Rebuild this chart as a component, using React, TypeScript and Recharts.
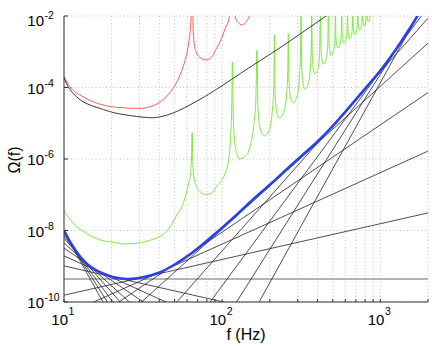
import { LineChart, Line, XAxis, YAxis, CartesianGrid, Label } from 'recharts'

// frequency in Hz, energy density Omega(f)
type Pt = [number, number]

const xTicks = [10, 20, 30, 40, 50, 60, 70, 80, 90, 100, 200, 300, 400, 500, 600, 700, 800, 900, 1000, 2000]
const xLabelTicks = [10, 100, 1000]
const yTicks = [1e-10, 1e-8, 1e-6, 1e-4, 1e-2]

const redCurve: Pt[] = [
  [10, 2e-4], [10.9, 1.05e-4], [13.2, 5.5e-5], [16.9, 3.4e-5], [21.5, 2.8e-5], [30.1, 2.6e-5],
  [36.5, 3.1e-5], [40.5, 3.9e-5], [44.3, 5.5e-5], [47.5, 7.9e-5], [51.2, 1.3e-4], [54.5, 2.4e-4],
  [57.6, 4.8e-4], [61.3, 1.7e-3], [63.5, 7.8e-3], [64.6, 1e-1], [65.7, 3.3e-3], [67.8, 1.1e-3],
  [71.6, 7.2e-4], [79, 5.9e-4], [86.9, 7.6e-4], [90.6, 1.1e-3], [97.5, 2e-3], [104.5, 4.5e-3],
  [111, 9.5e-3], [114, 3e-2], [116, 1e-1], [119, 1.6e-2], [121, 9.5e-3], [126, 6.6e-3],
  [134, 5.6e-3], [141, 6.6e-3], [148, 9.5e-3], [154, 1.6e-2], [160, 6e-2],
]

const blackCurve: Pt[] = [
  [10, 1.9e-4], [10.9, 8.9e-5], [13.2, 4e-5], [16.9, 2.6e-5], [21.5, 1.9e-5], [31.6, 1.48e-5],
  [40.2, 1.5e-5], [51.2, 2.1e-5], [65.2, 3.6e-5], [90.6, 8.5e-5], [146.9, 3.5e-4], [238, 1.4e-3],
  [446, 9.5e-3], [520, 1.5e-2],
]

const greenCurve: Pt[] = [
  [10, 3.5e-8], [11.4, 1.6e-8], [13.2, 9.5e-9], [16.9, 5.5e-9], [21.5, 4.5e-9], [23.6, 4.2e-9],
  [27.3, 4.3e-9], [34.8, 5.3e-9], [44.3, 9.3e-9], [51.2, 2.5e-8], [57.6, 7e-8], [61.1, 1.9e-7],
  [63.3, 4.5e-7], [64.1, 1.26e-6], [64.6, 5.5e-6], [65.1, 1.1e-6], [65.7, 4e-7], [68.7, 1.7e-7],
  [73, 1.2e-7], [79, 1e-7], [85.6, 1.1e-7], [90.6, 1.55e-7], [98.8, 2.5e-7], [104.5, 4e-7],
  [110, 1e-6], [113, 4e-6], [114.9, 2.5e-5], [116, 5.2e-4], [117.5, 1.6e-5], [120, 3.2e-6],
  [124, 1.4e-6], [128, 1e-6], [140, 1.2e-6], [150, 2.2e-6], [158, 7.9e-6], [163, 4e-5],
  [166, 1.1e-3], [168, 3.2e-5], [173, 7.9e-6], [184, 4.4e-6], [198, 6.3e-6], [207, 2e-5],
  [212, 1.26e-4], [214, 3e-3], [216, 7.9e-5], [221, 2.2e-5], [229, 1.4e-5], [246, 2.2e-5],
  [256, 7.1e-5], [260, 3.2e-4], [262, 3.2e-3], [264, 2e-4], [270, 5.6e-5], [281, 3.8e-5],
  [299, 6.3e-5], [309, 2.5e-4], [313, 1.26e-3], [315, 1.6e-2], [318, 4e-4], [324, 1.4e-4],
  [334, 8.9e-5], [352, 1.4e-4], [362, 4.5e-4], [366, 1.6e-3], [368, 1.6e-2], [371, 7.9e-4],
  [376, 3.5e-4], [386, 2.4e-4], [404, 3.5e-4], [413, 1e-3], [418, 1.6e-2], [421, 1.26e-3],
  [427, 6.3e-4], [436, 4.5e-4], [455, 6.3e-4], [465, 1.6e-3], [470, 1.6e-2], [473, 2e-3],
  [479, 1.1e-3], [488, 7.9e-4], [506, 1.05e-3], [516, 2.5e-3], [520, 1.6e-2], [523, 2.8e-3],
  [529, 1.66e-3], [538, 1.26e-3], [556, 1.6e-3], [566, 3.5e-3], [570, 1.6e-2], [573, 3.5e-3],
  [579, 2.2e-3], [588, 1.74e-3], [606, 2.2e-3], [616, 4.5e-3], [620, 1.6e-2], [623, 4.5e-3],
  [629, 2.8e-3], [638, 2.3e-3], [656, 2.8e-3], [666, 5.6e-3], [670, 1.6e-2], [673, 5.6e-3],
  [679, 3.8e-3], [688, 3e-3], [706, 3.6e-3], [716, 7.1e-3], [720, 1.6e-2], [723, 7.1e-3],
  [729, 5e-3], [738, 4e-3], [756, 4.8e-3], [766, 8.9e-3], [770, 1.6e-2], [773, 8.9e-3],
  [779, 6.6e-3], [788, 5.2e-3], [806, 6.3e-3], [816, 1.1e-2], [820, 1.6e-2], [823, 1.1e-2],
  [829, 8.7e-3], [838, 6.9e-3], [856, 8.3e-3], [866, 1.26e-2], [870, 2e-2],
]

const blueCurve: Pt[] = [
  [10, 1e-8], [11.2, 4e-9], [12.6, 1.9e-9], [14.1, 1.12e-9], [15.8, 7.9e-10], [17.8, 6.2e-10],
  [20, 5.1e-10], [22.4, 4.6e-10], [25.1, 4.4e-10], [28.2, 4.5e-10], [31.6, 4.9e-10], [39.8, 6.6e-10],
  [50.1, 1.12e-9], [63.1, 2.2e-9], [79.4, 5e-9], [100, 1.2e-8], [126, 3e-8], [158, 7.6e-8],
  [200, 1.9e-7], [251, 4.8e-7], [316, 1.2e-6], [398, 3e-6], [501, 8.5e-6], [631, 2.7e-5],
  [794, 8.9e-5], [1000, 3e-4], [1259, 1.2e-3], [1585, 5.6e-3], [1820, 1.6e-2],
]

const flatLine: Pt[] = [[10, 4.4e-10], [2000, 4.4e-10]]

// power-law lines, slopes -8..8 (0 is the grey one): Omega at 10 Hz and at 2000 Hz
const powerLawFreqs = [10, 2000]
const powerLawEnds: [number, number][] = [
  [9.3e-9, 3.6e-27], [8.3e-9, 6.5e-25], [7.1e-9, 1.1e-22], [6.0e-9, 1.9e-20],
  [4.5e-9, 2.8e-18], [3.2e-9, 4.0e-16], [1.95e-9, 4.9e-14], [1.02e-9, 5.1e-12],
  [1.55e-10, 3.1e-8], [4.2e-11, 1.66e-6], [9.1e-12, 7.2e-5], [1.1e-12, 1.74e-3],
  [2.7e-14, 8.7e-3], [2.9e-16, 1.8e-2], [2.3e-18, 3.0e-2], [1.35e-20, 3.5e-2],
]

const FONT = '"Liberation Sans", Arial, sans-serif'
const toRows = (pts: Pt[]) => pts.map(([f, omega]) => ({ f, omega }))

function XTick({ x, payload }: any) {
  if (!xLabelTicks.includes(payload.value)) return null
  const exp = Math.round(Math.log10(payload.value))
  return (
    <g fontFamily={FONT} fill="#000">
      <text x={x + 4} y={325} textAnchor="end" fontSize={15}>10</text>
      <text x={x + 4.5} y={315} fontSize={10.5}>{exp}</text>
    </g>
  )
}

function YTick({ y, payload }: any) {
  const exp = Math.round(Math.log10(payload.value))
  const base = Math.max(y + 6, 26)
  return (
    <g fontFamily={FONT} fill="#000">
      <text x={44} y={base} textAnchor="end" fontSize={15}>10</text>
      <text x={44.5} y={base - 7} fontSize={10.5}>{`-${-exp}`}</text>
    </g>
  )
}

const domainX = [10, 2000]
const domainY = [1e-10, 1e-2]

export default function App() {
  const thin = { dot: false, isAnimationActive: false, dataKey: 'omega' }
  return (
    <div style={{ position: 'absolute', left: 0, top: 0, background: '#fff' }}>
      <LineChart width={432} height={346} margin={{ top: 16, right: 4, bottom: 4, left: 8 }}>
        <CartesianGrid stroke="#b0b0b0" strokeDasharray="1 2.5" strokeWidth={0.8} />
        <XAxis
          dataKey="f"
          type="number"
          scale="log"
          domain={domainX}
          allowDataOverflow
          ticks={xTicks}
          interval={0}
          height={40}
          tick={<XTick />}
          tickSize={-3}
          axisLine={{ stroke: '#333' }}
          tickLine={{ stroke: '#333' }}
        >
          <Label
            content={() => (
              <text x={246} y={340} textAnchor="middle" fontSize={16} fontFamily={FONT}>
                f (Hz)
              </text>
            )}
          />
        </XAxis>
        <XAxis
          xAxisId="top"
          orientation="top"
          type="number"
          scale="log"
          domain={domainX}
          allowDataOverflow
          ticks={xTicks}
          interval={0}
          height={0}
          tick={false}
          tickSize={-3}
          axisLine={{ stroke: '#333' }}
          tickLine={{ stroke: '#333' }}
        />
        <YAxis
          type="number"
          scale="log"
          domain={domainY}
          allowDataOverflow
          ticks={yTicks}
          interval={0}
          width={56}
          tick={<YTick />}
          tickSize={-4}
          axisLine={{ stroke: '#333' }}
          tickLine={{ stroke: '#333' }}
        >
          <Label
            content={() => (
              <text transform="translate(20,160) rotate(-90)" textAnchor="middle" fontSize={16} fontFamily={FONT}>
                Ω(f)
              </text>
            )}
          />
        </YAxis>
        <YAxis
          yAxisId="right"
          orientation="right"
          type="number"
          scale="log"
          domain={domainY}
          allowDataOverflow
          ticks={yTicks}
          interval={0}
          width={0}
          tick={false}
          tickSize={-4}
          axisLine={{ stroke: '#333' }}
          tickLine={{ stroke: '#333' }}
        />

        <Line {...thin} data={toRows(flatLine)} type="linear" stroke="#b4b4b4" strokeWidth={2} />
        {powerLawEnds.map(([a, b], i) => (
          <Line
            key={i}
            {...thin}
            data={toRows([[powerLawFreqs[0], a], [powerLawFreqs[1], b]])}
            type="linear"
            stroke="#222"
            strokeWidth={0.8}
          />
        ))}
        <Line {...thin} data={toRows(greenCurve)} type="monotone" stroke="#7ee83f" strokeWidth={1} />
        <Line {...thin} data={toRows(redCurve)} type="monotone" stroke="#ff5c5c" strokeWidth={1} />
        <Line {...thin} data={toRows(blackCurve)} type="natural" stroke="#222" strokeWidth={0.9} />
        <Line {...thin} data={toRows(blueCurve)} type="natural" stroke="#2a3ff0" strokeWidth={2.6} />
      </LineChart>
    </div>
  )
}
